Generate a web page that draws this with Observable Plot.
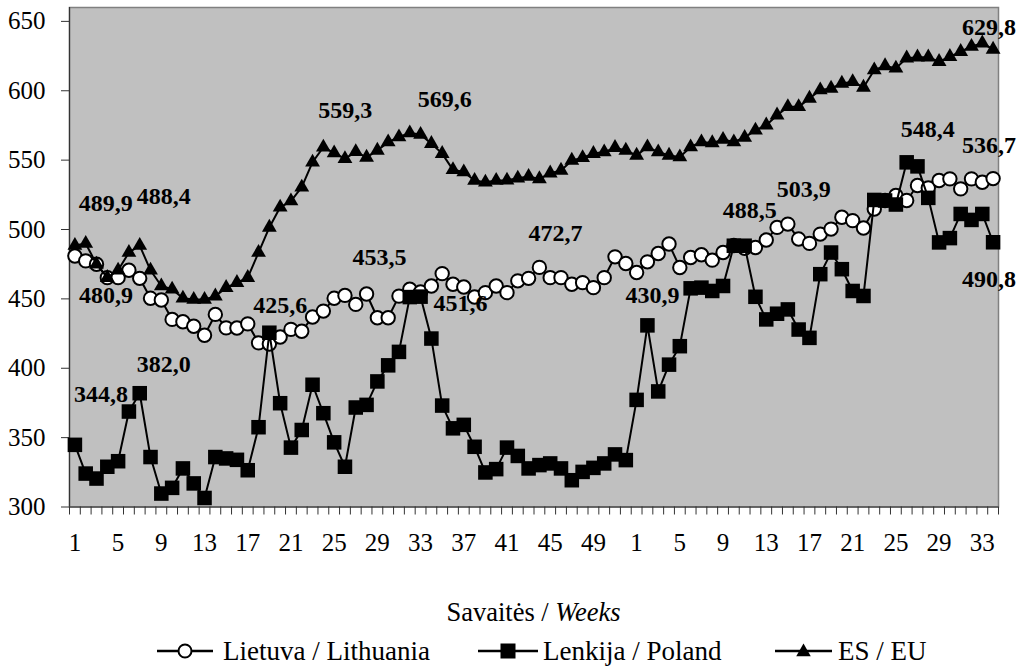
<!DOCTYPE html>
<html>
<head>
<meta charset="utf-8">
<script src="https://cdn.jsdelivr.net/npm/d3@7"></script>
<script src="https://cdn.jsdelivr.net/npm/@observablehq/plot@0.6"></script>
<style>
  html, body { margin: 0; padding: 0; background: #fff; overflow: hidden; }
  body { width: 1023px; height: 668px; font-family: "Liberation Serif", "Times New Roman", Tinos, Times, "DejaVu Serif", "Noto Serif", serif; color: #000; }
  #chart svg { display: block; }
  #xtitle { height: 44px; line-height: 44px; font-size: 26.5px; text-align: center; padding-left: 69px; padding-right: 25px; }
  #legend { position: relative; height: 34px; font-size: 27px; }
  .item { position: absolute; top: 0; height: 34px; display: flex; align-items: center; white-space: nowrap; line-height: 30px; }
  .item svg { display: block; }
</style>
</head>
<body>
<div id="chart"></div>
<div id="xtitle">Savaitės / <i>Weeks</i></div>
<div id="legend"></div>
<script>
// ---- Data ----
const weekLabels = [1,2,3,4,5,6,7,8,9,10,11,12,13,14,15,16,17,18,19,20,21,22,23,24,25,26,27,28,29,30,31,32,33,34,35,36,37,38,39,40,41,42,43,44,45,46,47,48,49,50,51,52,
                    1,2,3,4,5,6,7,8,9,10,11,12,13,14,15,16,17,18,19,20,21,22,23,24,25,26,27,28,29,30,31,32,33,34];

const lietuva = [480.9,477.4,475.0,465.3,465.3,470.6,464.8,450.4,449.2,435.2,433.5,430.3,423.8,438.8,429.1,429.0,432.0,418.3,417.5,422.5,
                 428.0,426.7,436.9,441.2,450.4,452.5,446.0,453.5,436.4,436.4,452.0,457.0,455.0,459.3,468.2,460.5,458.6,451.3,454.5,459.3,
                 454.5,463.0,464.8,472.7,465.3,465.3,460.5,461.7,458.1,465.3,480.3,475.5,469.0,476.7,482.7,489.5,472.6,479.8,481.8,477.9,
                 483.4,488.5,486.5,487.0,492.4,501.5,503.9,493.1,490.0,496.7,500.3,508.8,506.4,501.1,514.8,520.9,524.5,520.9,531.7,530.0,
                 535.3,536.5,529.3,536.5,534.1,536.7];

const lenkija = [344.8,324.1,320.5,329.0,333.0,368.8,382.0,336.0,309.7,313.8,327.8,317.0,306.5,336.0,335.0,334.0,326.5,357.5,425.6,374.8,
                 342.8,355.5,388.1,367.6,346.6,329.0,371.7,373.6,390.5,402.1,411.8,451.3,451.6,421.4,373.1,356.7,359.2,343.4,324.9,327.3,
                 342.8,336.8,327.8,330.2,331.4,327.8,319.3,325.3,328.2,331.4,337.9,333.8,377.2,430.9,383.3,402.6,415.9,457.6,458.1,455.7,
                 459.3,488.3,488.3,451.5,435.2,439.3,442.4,427.9,421.9,467.8,483.4,471.4,455.7,452.1,521.3,520.9,518.0,548.4,545.5,522.8,
                 490.7,493.8,511.2,506.9,511.2,490.8];

const es = [488.5,489.9,475.0,465.3,470.6,483.4,488.4,470.6,459.3,456.9,450.4,449.5,449.5,452.0,458.1,461.7,465.3,483.4,501.5,516.0,
            520.5,530.5,548.5,559.3,555.1,551.0,556.0,552.0,557.0,563.0,566.7,569.6,568.5,561.9,554.7,543.0,541.4,535.3,534.0,535.3,
            535.5,536.9,538.2,536.5,540.6,542.6,549.8,551.7,554.7,555.8,559.0,557.0,553.4,559.5,555.8,553.4,552.2,559.5,563.1,562.4,
            564.8,563.1,566.3,571.5,575.2,582.4,588.4,588.4,594.5,600.5,601.7,605.3,606.5,602.4,615.0,617.9,616.2,623.5,624.2,624.2,
            621.0,624.6,628.2,631.9,634.3,629.8];

const seriesNames = ["Lietuva / Lithuania", "Lenkija / Poland", "ES / EU"];
const yTickValues = [300, 350, 400, 450, 500, 550, 600, 650];

// Annotated points: which series and which week index
const annotated = [
  {s: 2, i: 1}, {s: 2, i: 6}, {s: 0, i: 0}, {s: 1, i: 0}, {s: 1, i: 6}, {s: 1, i: 18},
  {s: 2, i: 23}, {s: 2, i: 31}, {s: 0, i: 27}, {s: 1, i: 32}, {s: 0, i: 43}, {s: 1, i: 53},
  {s: 0, i: 61}, {s: 0, i: 66}, {s: 1, i: 77}, {s: 0, i: 85}, {s: 1, i: 85}, {s: 2, i: 85}
];
// label offsets (px) from their points
const labelOffsets = [
  [20,-40],[24,-49],[31,39],[26,-51],[24,-29],[11,-27],
  [22,-37],[35,-34],[13,-37],[40,7],[16,-34],[5,-30],
  [16,-35],[16,-35],[21,-33],[-4,-33],[-4,37],[-4,-22]
];

const serif = "'Liberation Serif', 'Times New Roman', Tinos, Times, 'DejaVu Serif', 'Noto Serif', serif";

// ---- Build tables ----
const allSeries = [lietuva, lenkija, es];
const toRows = arr => arr.map((v, i) => ({i, v}));
const ltRows = toRows(lietuva), plRows = toRows(lenkija), esRows = toRows(es);
const n = weekLabels.length;
const boundaries = d3.range(n + 1).map(k => k - 0.5);
const labelTicks = d3.range(0, n, 4);
const fmt = v => v.toFixed(1).replace(".", ",");

const labelMarks = annotated.map((a, k) => Plot.text([{i: a.i, v: allSeries[a.s][a.i]}], {
  x: "i", y: "v", text: d => fmt(d.v),
  dx: labelOffsets[k][0], dy: labelOffsets[k][1],
  fontSize: 24, fontWeight: "bold", fill: "#000", fontFamily: serif
}));

const chart = Plot.plot({
  width: 1023,
  height: 590,
  marginLeft: 69,
  marginRight: 25,
  marginTop: 7,
  marginBottom: 83.5,
  style: {fontFamily: serif, fontSize: "25px", color: "#000", background: "#fff"},
  x: {type: "linear", domain: [-0.5, n - 0.5]},
  y: {domain: [300, 660]},
  marks: [
    Plot.frame({fill: "#c0c0c0", stroke: "#808080", strokeWidth: 1.5}),
    Plot.axisX(boundaries, {tickSize: 8, tickFormat: () => "", stroke: "#333", label: null}),
    Plot.axisX(labelTicks, {tickSize: 0, tickPadding: 26, tickFormat: i => String(weekLabels[i]), fontSize: 25, fontFamily: serif, label: null}),
    Plot.axisY(yTickValues, {tickSize: 8, tickPadding: 16, fontSize: 25, fontFamily: serif, stroke: "#333", label: null}),
    Plot.ruleX([-0.5], {stroke: "#333", strokeWidth: 1.2}),
    Plot.ruleY([300], {stroke: "#333", strokeWidth: 1.2}),
    Plot.line(ltRows, {x: "i", y: "v", stroke: "#000", strokeWidth: 2}),
    Plot.dot(ltRows, {x: "i", y: "v", r: 6.7, fill: "#fff", stroke: "#000", strokeWidth: 2}),
    Plot.line(plRows, {x: "i", y: "v", stroke: "#000", strokeWidth: 2}),
    Plot.dot(plRows, {x: "i", y: "v", r: 8.2, symbol: "square", fill: "#000", stroke: "none"}),
    Plot.line(esRows, {x: "i", y: "v", stroke: "#000", strokeWidth: 2}),
    Plot.dot(esRows, {x: "i", y: "v", r: 5.5, symbol: "triangle", fill: "#000", stroke: "none"}),
    ...labelMarks
  ]
});
document.getElementById("chart").appendChild(chart);

// ---- Legend ----
const legend = document.getElementById("legend");
const legendItems = [
  {name: seriesNames[0], left: 157, w: 56, gap: 10, sym: cx => `<circle cx="${cx}" cy="10" r="6.5" fill="#fff" stroke="#000" stroke-width="2"/>`},
  {name: seriesNames[1], left: 478, w: 60, gap: 5, sym: cx => `<rect x="${cx - 7.5}" y="2.5" width="15" height="15" fill="#000"/>`},
  {name: seriesNames[2], left: 775, w: 57, gap: 6, sym: cx => `<path d="${d3.symbol(d3.symbolTriangle, 92)()}" transform="translate(${cx},11)" fill="#000"/>`}
];
for (const it of legendItems) {
  const div = document.createElement("div");
  div.className = "item";
  div.style.left = it.left + "px";
  const cx = it.w / 2;
  div.innerHTML = `<svg width="${it.w}" height="20"><line x1="0" x2="${it.w}" y1="10" y2="10" stroke="#000" stroke-width="2.5"/>${it.sym(cx)}</svg><span style="margin-left:${it.gap}px">${it.name}</span>`;
  legend.appendChild(div);
}
</script>
</body>
</html>
